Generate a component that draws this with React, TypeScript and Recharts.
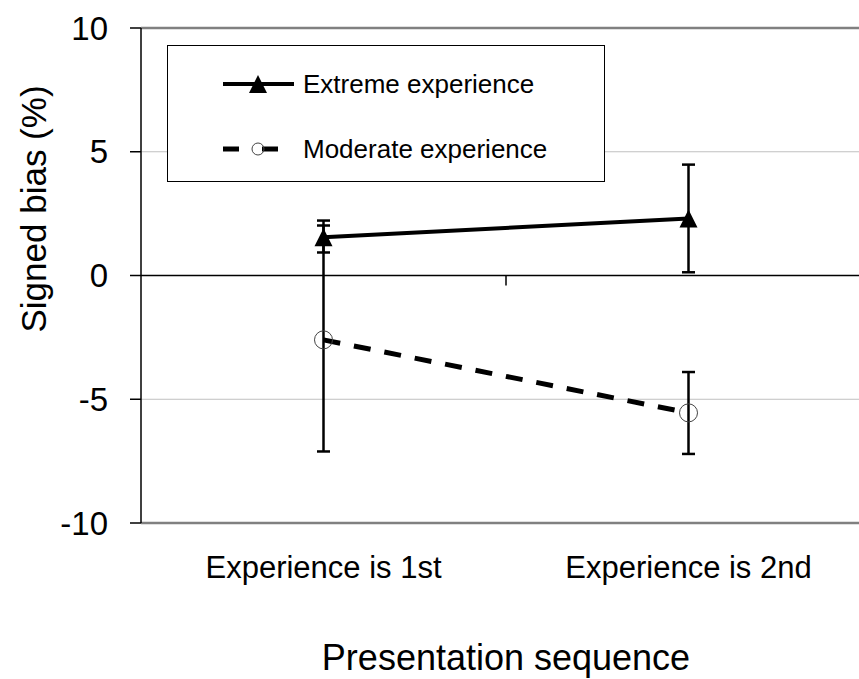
import { LineChart, Line, XAxis, YAxis, CartesianGrid, ErrorBar, ReferenceLine, Legend } from 'recharts'

const categories = ['Experience is 1st', 'Experience is 2nd']
const seriesNames = ['Extreme experience', 'Moderate experience']
const extreme = [1.55, 2.3]
const extremeErr = [[0.62, 0.67], [2.17, 2.18]]
const moderate = [-2.6, -5.55]
const moderateErr = [[4.51, 4.62], [1.66, 1.65]]
const yTicks = [-10, -5, 0, 5, 10]

const data = categories.map((name, i) => ({
  name,
  extreme: extreme[i],
  extremeErr: extremeErr[i],
  moderate: moderate[i],
  moderateErr: moderateErr[i],
}))

const FONT = '"Liberation Sans", Arial, sans-serif'

const TriangleDot = (props: any) => {
  const { cx, cy } = props
  if (cx == null || cy == null) return null
  return <polygon points={`${cx},${cy - 9} ${cx + 9},${cy + 9} ${cx - 9},${cy + 9}`} fill="#000" />
}

const CircleDot = (props: any) => {
  const { cx, cy } = props
  if (cx == null || cy == null) return null
  return <circle cx={cx} cy={cy} r={9} fill="none" stroke="#444" strokeWidth={1} />
}

// zero line with the small category-boundary tick (Excel style)
const ZeroLine = (props: any) => {
  const { x1, x2, y1, y2 } = props
  const mid = (x1 + x2) / 2
  return (
    <g>
      <line x1={x1} y1={y1} x2={x2} y2={y2} stroke="#000" strokeWidth={1.5} />
      <line x1={mid} y1={y1} x2={mid} y2={y1 + 10} stroke="#000" strokeWidth={1.5} />
    </g>
  )
}

const renderLegend = () => (
  <div
    style={{
      position: 'relative',
      width: 436,
      height: 135,
      border: '1.5px solid #000',
      background: '#fff',
      fontFamily: FONT,
      fontSize: 26,
      color: '#000',
    }}
  >
    {seriesNames.map((name, i) => (
      <div key={name} style={{ position: 'absolute', left: 0, top: i === 0 ? 22 : 87, height: 32, display: 'flex', alignItems: 'center' }}>
        <svg width={135} height={32} style={{ display: 'block' }}>
          {i === 0 ? (
            <g>
              <line x1={55} y1={16} x2={126} y2={16} stroke="#000" strokeWidth={4} />
              <polygon points="90,7 99,25 81,25" fill="#000" />
            </g>
          ) : (
            <g>
              <line x1={55} y1={16} x2={71} y2={16} stroke="#000" strokeWidth={5} />
              <line x1={94} y1={16} x2={110} y2={16} stroke="#000" strokeWidth={5} />
              <circle cx={90} cy={16} r={6} fill="none" stroke="#444" strokeWidth={1} />
            </g>
          )}
        </svg>
        <span style={{ whiteSpace: 'nowrap' }}>{name}</span>
      </div>
    ))}
  </div>
)

export default function App() {
  return (
    <div style={{ position: 'absolute', left: 0, top: 0, width: 859, height: 679, overflow: 'hidden', background: '#fff' }}>
      <LineChart width={871} height={679} data={data} margin={{ top: 28, right: 0, left: 0, bottom: 0 }}>
        <CartesianGrid horizontal vertical={false} stroke="#c0c0c0" strokeWidth={1} />
        <ReferenceLine y={10} stroke="#808080" strokeWidth={2.5} />
        <ReferenceLine y={0} shape={ZeroLine} />
        <XAxis
          dataKey="name"
          scale="band"
          height={156}
          axisLine={{ stroke: '#808080', strokeWidth: 2.5 }}
          tickLine={false}
          tickSize={0}
          tickMargin={33}
          tick={{ fill: '#000', fontSize: 31, fontFamily: FONT }}
          label={{
            value: 'Presentation sequence',
            position: 'insideBottom',
            offset: 9,
            fill: '#000',
            fontSize: 36,
            fontFamily: FONT,
          }}
        />
        <YAxis
          width={141}
          domain={[-10, 10]}
          ticks={yTicks}
          interval={0}
          axisLine={{ stroke: '#000', strokeWidth: 1.5 }}
          tickLine={{ stroke: '#000', strokeWidth: 1.5 }}
          tickSize={11}
          tickMargin={22}
          tick={{ fill: '#000', fontSize: 33, fontFamily: FONT }}
          label={{
            value: 'Signed bias (%)',
            content: (p: any) => (
              <text
                x={46}
                y={209}
                transform="rotate(-90 46 209)"
                textAnchor="middle"
                fill="#000"
                fontSize={35}
                fontFamily={FONT}
              >
                {p.value}
              </text>
            ),
          }}
        />
        <Legend
          layout="horizontal"
          verticalAlign="middle"
          align="center"
          content={renderLegend}
          wrapperStyle={{ left: 167, top: 45, width: 439, height: 138 }}
        />
        <Line
          name={seriesNames[0]}
          dataKey="extreme"
          stroke="#000"
          strokeWidth={4}
          dot={<TriangleDot />}
          activeDot={false}
          isAnimationActive={false}
        >
          <ErrorBar dataKey="extremeErr" width={6.5} stroke="#000" strokeWidth={2.5} direction="y" isAnimationActive={false} />
        </Line>
        <Line
          name={seriesNames[1]}
          dataKey="moderate"
          stroke="#000"
          strokeWidth={5}
          strokeDasharray="17 14"
          dot={<CircleDot />}
          activeDot={false}
          isAnimationActive={false}
        >
          <ErrorBar dataKey="moderateErr" width={6.5} stroke="#000" strokeWidth={2.5} direction="y" isAnimationActive={false} />
        </Line>
      </LineChart>
    </div>
  )
}
